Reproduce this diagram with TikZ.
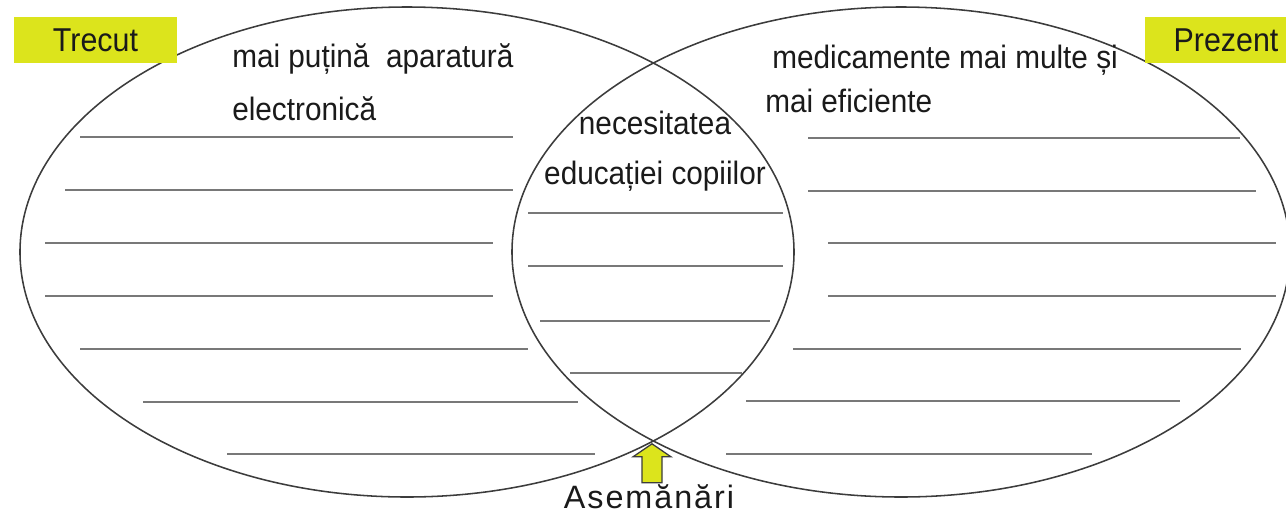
\documentclass[tikz,border=0pt]{standalone}
\usepackage{fontspec}
\setmainfont{Liberation Sans}[FakeStretch=0.92]
\newfontfamily\vnwide{Liberation Sans}[LetterSpace=6]
\usetikzlibrary{positioning}
\definecolor{vnEdge}{HTML}{3C3C3C}
\definecolor{vnLine}{HTML}{787878}
\definecolor{vnTag}{HTML}{DCE41C}
\definecolor{vnText}{HTML}{1A1A1A}
\tikzset{
  vnset/.style={draw=vnEdge,line width=1.1pt},
  vnwrite/.style={draw=vnLine,line width=1.4pt},
  vntag/.style={fill=vnTag,text=vnText,minimum width=40.75mm,minimum height=11.5mm,
                inner sep=0pt,font=\fontsize{23.5}{27}\selectfont},
  vnnote/.style={text=vnText,inner sep=0pt,align=left},
  vnarrow/.style={draw=vnEdge,line width=0.9pt,fill=vnTag,line join=miter},
}

\begin{document}
\begin{tikzpicture}[x=0.25mm,y=-0.25mm]
  \useasboundingbox (0,0) rectangle (1286,513);

  % the two sets
  \draw[vnset] (407,252) ellipse [x radius=96.75mm, y radius=61.25mm];
  \draw[vnset] (901,252) ellipse [x radius=97.25mm, y radius=61.25mm];
  \coordinate (meet) at (652,441);

  % set titles
  \node[vntag] (past) at (95.5,40) {Trecut};
  \node[vntag] (now) at (1226,40) {Prezent};

  % written answers (base = last line)
  \node[vnnote,anchor=base west,font=\fontsize{23}{37}\selectfont] (pastA) at (232,120)
        {mai puțină\ \ aparatură\\electronică};
  \node[vnnote,anchor=base west,font=\fontsize{23}{30.6}\selectfont] (nowA) at (765,112)
        {\hspace{5pt}medicamente mai multe și\\mai eficiente};
  \node[vnnote,anchor=base,align=center,font=\fontsize{23}{34.9}\selectfont] (bothA) at (655,184)
        {necesitatea\\educației copiilor};

  % empty lines to write on
  \foreach \y/\xa/\xb in {137/80/513, 190/65/513, 243/45/493, 296/45/493,
                          349/80/528, 402/143/578, 454/227/595}
    \draw[vnwrite] (\xa,\y) -- (\xb,\y);
  \foreach \y/\xa/\xb in {213/528/783, 266/528/783, 321/540/770, 373/570/742}
    \draw[vnwrite] (\xa,\y) -- (\xb,\y);
  \foreach \y/\xa/\xb in {138/808/1240, 191/808/1256, 243/828/1276, 296/828/1276,
                          349/793/1241, 401/746/1180, 454/726/1092}
    \draw[vnwrite] (\xa,\y) -- (\xb,\y);

  % common part
  \node[text=vnText,inner sep=0pt,anchor=base,font=\fontsize{23}{27}\vnwide] (same) at (649,508) {Asemănări};
  \draw[vnarrow] ([yshift=-2]meet) -- ++(19,13) -- ++(-9,0) -- ++(0,26) -- ++(-20,0)
        -- ++(0,-26) -- ++(-9,0) -- cycle;
\end{tikzpicture}
\end{document}
